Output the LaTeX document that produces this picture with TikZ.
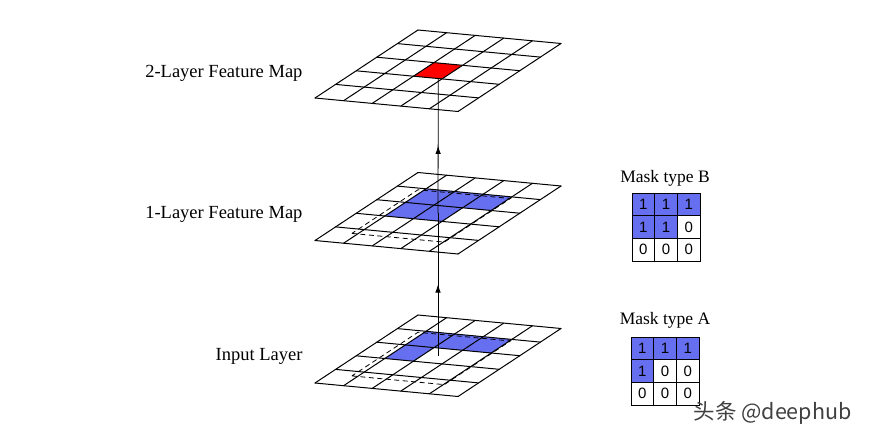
\documentclass[tikz,border=0pt]{standalone}
\usepackage{fontspec}
\setmainfont{Liberation Serif}
\setsansfont{Liberation Sans}
\newfontfamily\cjkfont{Noto Sans CJK SC}
\usetikzlibrary{arrows.meta,decorations.markings}
\definecolor{maskblue}{RGB}{101,111,239}
\begin{document}
\begin{tikzpicture}[x=1pt,y=-1pt]
	\tikzset{layer/.style={shift={(315,#1)},x={(28.6pt,-2.7pt)},y={(20.6pt,13.6pt)}},
		gridline/.style={black,line width=1pt,line cap=round},
		field/.style={black,line width=0.8pt,dash pattern=on 5pt off 3.5pt},
		bluecell/.style={fill=maskblue},
		layername/.style={anchor=base east,font=\fontsize{18.5}{20}\selectfont},
		masktitle/.style={anchor=base,font=\fontsize{17.5}{20}\selectfont},
		maskcell/.style={draw,line width=0.8pt,minimum size=22.7pt,inner sep=0pt,font=\sffamily\fontsize{15}{15}\selectfont},
		flow/.style={black,line width=0.8pt,postaction={decorate},
			decoration={markings,mark=at position 0.5 with {\arrow{Latex[length=8pt,width=5.5pt]}}}}}
	\useasboundingbox (0,0) rectangle (875,439);
	\begin{scope}[layer=98]
		\fill[red] (2,2) -- ++(1,0) -- ++(0,1) -- ++(-1,0) -- cycle;
		\foreach \i in {0,...,5}{
			\draw[gridline] (\i,0) -- (\i,5);
			\draw[gridline] (0,\i) -- (5,\i);
		}
		\coordinate (top-c) at (2.87,2);
	\end{scope}
	\begin{scope}[layer=240.5]
		\foreach \a/\b in {1/3, 2/3, 3/3, 1/2, 2/2}
			\fill[bluecell] (\a,\b) -- ++(1,0) -- ++(0,1) -- ++(-1,0) -- cycle;
		\foreach \i in {0,...,5}{
			\draw[gridline] (\i,0) -- (\i,5);
			\draw[gridline] (0,\i) -- (5,\i);
		}
		\draw[field] (0.8,0.68) -- (4.03,0.68) -- (4.03,3.89) -- (0.8,3.89) -- cycle;
		\coordinate (mid-c) at (2.5,2.5);
	\end{scope}
	\begin{scope}[layer=383]
		\foreach \a/\b in {1/3, 2/3, 3/3, 1/2}
			\fill[bluecell] (\a,\b) -- ++(1,0) -- ++(0,1) -- ++(-1,0) -- cycle;
		\foreach \i in {0,...,5}{
			\draw[gridline] (\i,0) -- (\i,5);
			\draw[gridline] (0,\i) -- (5,\i);
		}
		\draw[field] (0.8,0.68) -- (4.03,0.68) -- (4.03,3.89) -- (0.8,3.89) -- cycle;
		\coordinate (bot-c) at (2.5,2.5);
	\end{scope}
	\draw[flow] (bot-c) -- (mid-c);
	\draw[flow] (mid-c) -- (top-c);
	\node[layername] (name-top) at (306,77) {2-Layer Feature Map};
	\node[layername] (name-mid) at (306,218) {1-Layer Feature Map};
	\node[layername] (name-bot) at (306,360) {Input Layer};
	\node[masktitle] (title-b) at (665,182) {Mask type B};
	\foreach \i/\j/\v/\fc in {0/0/1/maskblue, 1/0/1/maskblue, 2/0/1/maskblue, 0/1/1/maskblue, 1/1/1/maskblue,
		2/1/0/white, 0/2/0/white, 1/2/0/white, 2/2/0/white}
		\node[maskcell,fill=\fc] (b-\i\j) at (643.4+22.7*\i,204.4+22.7*\j) {\v};
	\node[masktitle] (title-a) at (665,324) {Mask type A};
	\foreach \i/\j/\v/\fc in {0/0/1/maskblue, 1/0/1/maskblue, 2/0/1/maskblue, 0/1/1/maskblue, 1/1/0/white,
		2/1/0/white, 0/2/0/white, 1/2/0/white, 2/2/0/white}
		\node[maskcell,fill=\fc] (a-\i\j) at (642.4+22.7*\i,348.4+22.7*\j) {\v};
	\node[anchor=west,black!75,font=\cjkfont\fontsize{21.5}{22}\selectfont] (watermark) at (690,413) {头条 @deephub};
\end{tikzpicture}
\end{document}
